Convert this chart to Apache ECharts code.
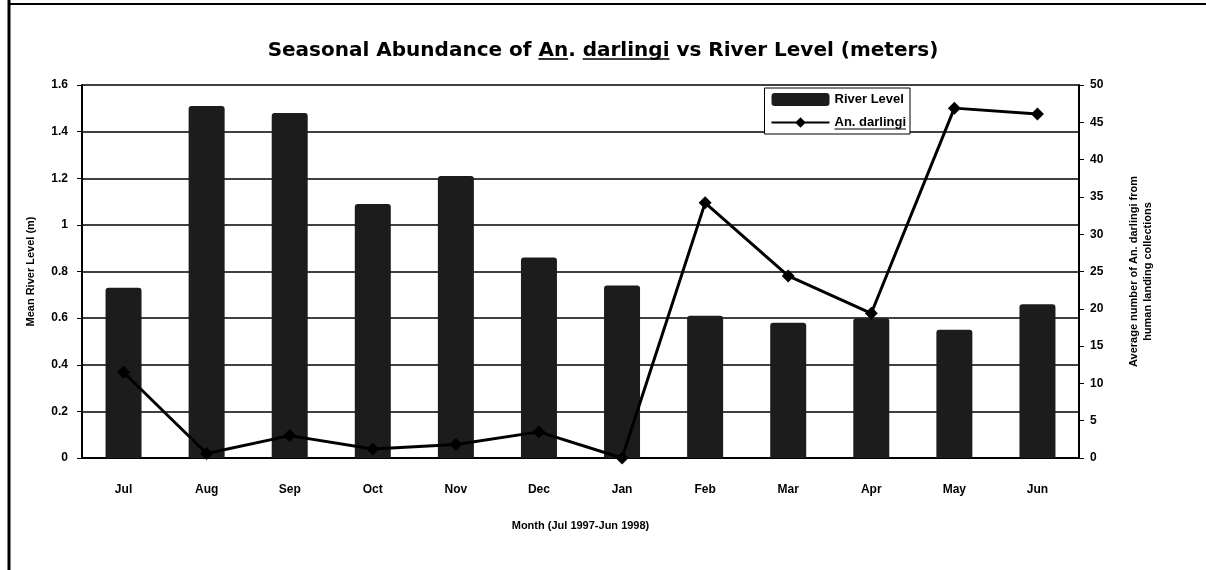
<!DOCTYPE html>
<html>
<head>
<meta charset="utf-8">
<script src="https://cdn.jsdelivr.net/npm/echarts@6/dist/echarts.min.js"></script>
<style>
html,body{margin:0;padding:0;background:#fff}
#chart{width:1206px;height:570px}
</style>
</head>
<body>
<div id="chart"></div>
<script>
var months = ['Jul','Aug','Sep','Oct','Nov','Dec','Jan','Feb','Mar','Apr','May','Jun']
var riverLevel = [0.73,1.51,1.48,1.09,1.21,0.86,0.74,0.61,0.58,0.60,0.55,0.66]
var darlingi = [11.5,0.6,3.0,1.2,1.8,3.5,0,34.2,24.4,19.4,46.9,46.1]
var leftTicks = [0,0.2,0.4,0.6,0.8,1,1.2,1.4,1.6]

var font = '"Liberation Sans", Arial, sans-serif'
var titleFont = '"DejaVu Sans", sans-serif'
var titleText = 'Seasonal Abundance of An. darlingi vs River Level (meters)'
var chart = echarts.init(document.getElementById('chart'))

// measure text so the underlines sit under "An" and "darlingi"
var ctx = document.createElement('canvas').getContext('2d')
function textW(str,size,fam){
    ctx.font = 'bold '+size+'px '+fam
    return ctx.measureText(str).width
}
function underlines(){
    var lines = []
    var full = textW(titleText,20,titleFont)
    var x0 = 603 - full/2
    var a = x0 + textW('Seasonal Abundance of ',20,titleFont)
    var d = x0 + textW('Seasonal Abundance of An. ',20,titleFont)
    lines.push([a, a+textW('An',20,titleFont), 59, 1.6])
    lines.push([d, d+textW('darlingi',20,titleFont), 59, 1.6])
    // legend entry text, right aligned inside legend box
    var lw = textW('An. darlingi',13,font)
    var lx = 906 - lw
    lines.push([lx, lx+lw, 129, 1.2])
    return lines.map(function(l){
        return {type:'line',z:100,shape:{x1:l[0],y1:l[2],x2:l[1],y2:l[2]},style:{stroke:'#000',lineWidth:l[3]}}
    })
}

var option = {
    animation:false,
    backgroundColor:'#fff',
    textStyle:{fontFamily:font,color:'#000'},
    title:{
        text:titleText,
        left:'center',
        top:36,
        textStyle:{fontFamily:titleFont,fontSize:20,fontWeight:'bold',color:'#000'}
    },
    legend:{
        right:296,
        top:88,
        orient:'vertical',
        itemGap:10,
        itemWidth:58,
        itemHeight:13,
        padding:[5,4,5,6],
        borderColor:'#000',
        borderWidth:1,
        backgroundColor:'#fff',
        textStyle:{fontFamily:font,fontSize:13,fontWeight:'bold',color:'#000'},
        data:[
            {name:'River Level',icon:'roundRect'},
            {name:'An. darlingi'}
        ]
    },
    grid:{left:82,right:127,top:85,bottom:112},
    xAxis:{
        type:'category',
        data:months,
        name:'Month (Jul 1997-Jun 1998)',
        nameLocation:'middle',
        nameGap:62,
        nameTextStyle:{fontFamily:font,fontSize:11,fontWeight:'bold',color:'#000'},
        axisLine:{lineStyle:{color:'#000',width:2}},
        axisTick:{show:false},
        axisLabel:{fontFamily:font,fontSize:12,fontWeight:'bold',color:'#000',margin:26}
    },
    yAxis:[
        {
            type:'value',
            min:leftTicks[0],
            max:leftTicks[leftTicks.length-1],
            interval:0.2,
            name:'Mean River Level (m)',
            nameLocation:'middle',
            nameGap:46,
            nameTextStyle:{fontFamily:font,fontSize:11,fontWeight:'bold',color:'#000'},
            axisLine:{show:true,lineStyle:{color:'#000',width:2}},
            axisTick:{show:true,length:5,lineStyle:{color:'#000'}},
            axisLabel:{fontFamily:font,fontSize:12,fontWeight:'bold',color:'#000',margin:14},
            splitLine:{show:true,lineStyle:{color:'#000',width:1.5}}
        },
        {
            type:'value',
            min:0,
            max:50,
            interval:5,
            position:'right',
            name:'Average number of An. darlingi from\nhuman landing collections',
            nameLocation:'middle',
            nameGap:48,
            nameRotate:90,
            nameTextStyle:{fontFamily:font,fontSize:11,fontWeight:'bold',color:'#000',lineHeight:14},
            axisLine:{show:true,lineStyle:{color:'#000',width:2}},
            axisTick:{show:true,length:5,lineStyle:{color:'#000'}},
            axisLabel:{fontFamily:font,fontSize:12,fontWeight:'bold',color:'#000',margin:11},
            splitLine:{show:false}
        }
    ],
    series:[
        {
            name:'River Level',
            type:'bar',
            yAxisIndex:0,
            data:riverLevel,
            barWidth:36,
            itemStyle:{color:'#1c1c1c',borderRadius:[3,3,0,0]}
        },
        {
            name:'An. darlingi',
            type:'line',
            yAxisIndex:1,
            data:darlingi,
            symbol:'diamond',
            symbolSize:13,
            showAllSymbol:true,
            lineStyle:{color:'#000',width:3},
            itemStyle:{color:'#000'},
            z:5
        }
    ],
    graphic:[
        {type:'line',shape:{x1:9,y1:0,x2:9,y2:570},style:{stroke:'#000',lineWidth:3}},
        {type:'line',shape:{x1:9,y1:4,x2:1206,y2:4},style:{stroke:'#000',lineWidth:2}}
    ].concat(underlines())
}
chart.setOption(option)
</script>
</body>
</html>
